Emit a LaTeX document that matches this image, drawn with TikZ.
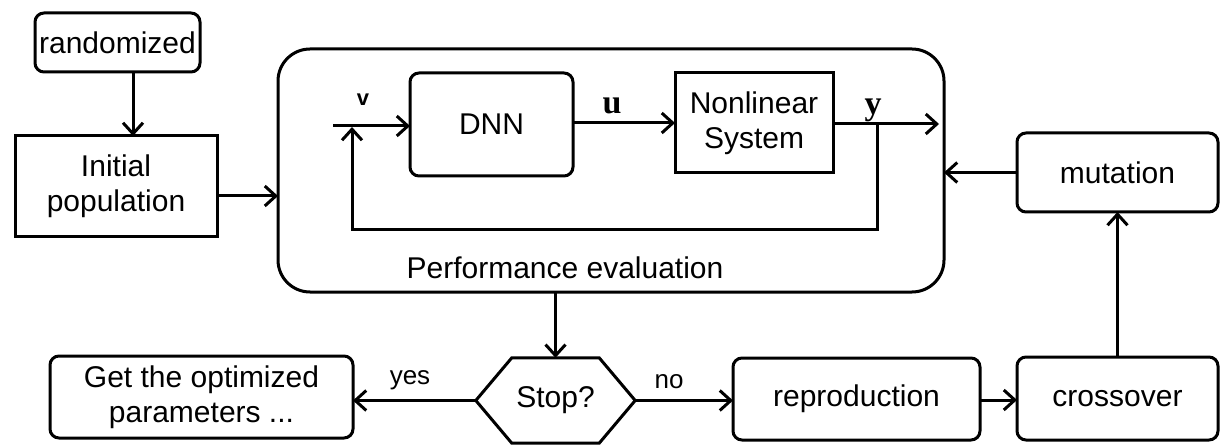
\documentclass[tikz,border=0pt]{standalone}
\usepackage{fontspec}
\setmainfont{Liberation Sans}
\newfontfamily\labserif{Liberation Serif}
\usetikzlibrary{arrows.meta,calc}
\tikzset{
  box/.style={draw, line width=3pt, inner sep=0pt, outer sep=0pt, align=center,
    font=\fontsize{30}{35}\selectfont},
  rbox/.style={box, rounded corners=9pt},
  lab/.style={inner sep=0pt, font=\fontsize{26}{30}\selectfont},
  sig/.style={inner sep=0pt, font=\labserif\bfseries\fontsize{34}{36}\selectfont},
  arr/.style={line width=3pt, -{Straight Barb[length=11pt,width=20pt]}},
  wire/.style={line width=3pt}
}
\begin{document}
\begin{tikzpicture}[x=1pt,y=-1pt]
\useasboundingbox (0,0) rectangle (1220,446);
% main nodes
\node[rbox, minimum width=165pt, minimum height=59pt] (rand) at (117.5,42.5) {randomized};
\node[box, minimum width=202pt, minimum height=101pt] (init) at (116,186.5) {Initial\\population};
\node[box, rounded corners=32pt, minimum width=666pt, minimum height=243pt] (pe) at (611,170.5) {};
\node[inner sep=0pt, anchor=base, font=\fontsize{30}{35}\selectfont] (pel) at (565,278) {Performance evaluation};
\node[rbox, minimum width=163pt, minimum height=103pt] (dnn) at (491.5,124.5) {DNN};
\node[box, minimum width=158pt, minimum height=100pt] (nls) at (754,123) {Nonlinear\\System};
\node[rbox, minimum width=201pt, minimum height=79pt] (mut) at (1117.5,172.5) {mutation};
\node[rbox, minimum width=303pt, minimum height=82pt] (get) at (201.5,397) {Get the optimized\\parameters ...};
\node[inner sep=0pt, minimum width=159pt, minimum height=85pt, font=\fontsize{30}{35}\selectfont] (stop) at (555.5,400.5) {Stop?};
\draw[wire, line join=miter] (stop.west) -- ([xshift=36pt]stop.north west) -- ([xshift=-36pt]stop.north east)
  -- (stop.east) -- ([xshift=-36pt]stop.south east) -- ([xshift=36pt]stop.south west) -- cycle;
\node[rbox, minimum width=247pt, minimum height=82pt] (rep) at (856.5,399) {reproduction};
\node[rbox, minimum width=201pt, minimum height=83pt] (cro) at (1117.5,398.5) {crossover};
% signal labels
\node[sig] (ulab) at (612,106) {u};
\node[sig] (ylab) at (873,110) {y};
\node[inner sep=0pt, font=\bfseries\fontsize{22}{24}\selectfont] (vlab) at (363,100) {v};
\node[lab] (yes) at (410,380) {yes};
\node[lab] (no) at (669,382) {no};
% inner loop coordinates
\coordinate (vin) at (333,126);
\coordinate (jn) at (352,127);
\coordinate (ytap) at (877,124);
\coordinate (yend) at (939,124);
\coordinate (fb) at (877,230);
% connectors
\draw[arr] ([xshift=15.5pt]rand.south) -- ([xshift=15.5pt]rand.south |- init.north);
\draw[arr] ([yshift=-9.5pt]init.east) -- ([yshift=-9.5pt]init.east -| pe.west);
\draw[arr] (vin) -- (vin -| dnn.west);
\draw[arr] (dnn.east |- nls.west) -- (nls.west);
\draw[arr] (nls.east |- yend) -- (yend);
\draw[arr] (ytap) -- (fb) -| (jn);
\draw[arr] (mut.west) -- (mut.west -| pe.east);
\draw[arr] (stop.north |- pe.south) -- (stop.north);
\draw[arr] (stop.west) -- (stop.west -| get.east);
\draw[arr] (stop.east) -- (stop.east -| rep.west);
\draw[arr] (rep.east |- 0,400) -- (cro.west |- 0,400);
\draw[arr] (cro.north) -- (mut.south);
\end{tikzpicture}
\end{document}
